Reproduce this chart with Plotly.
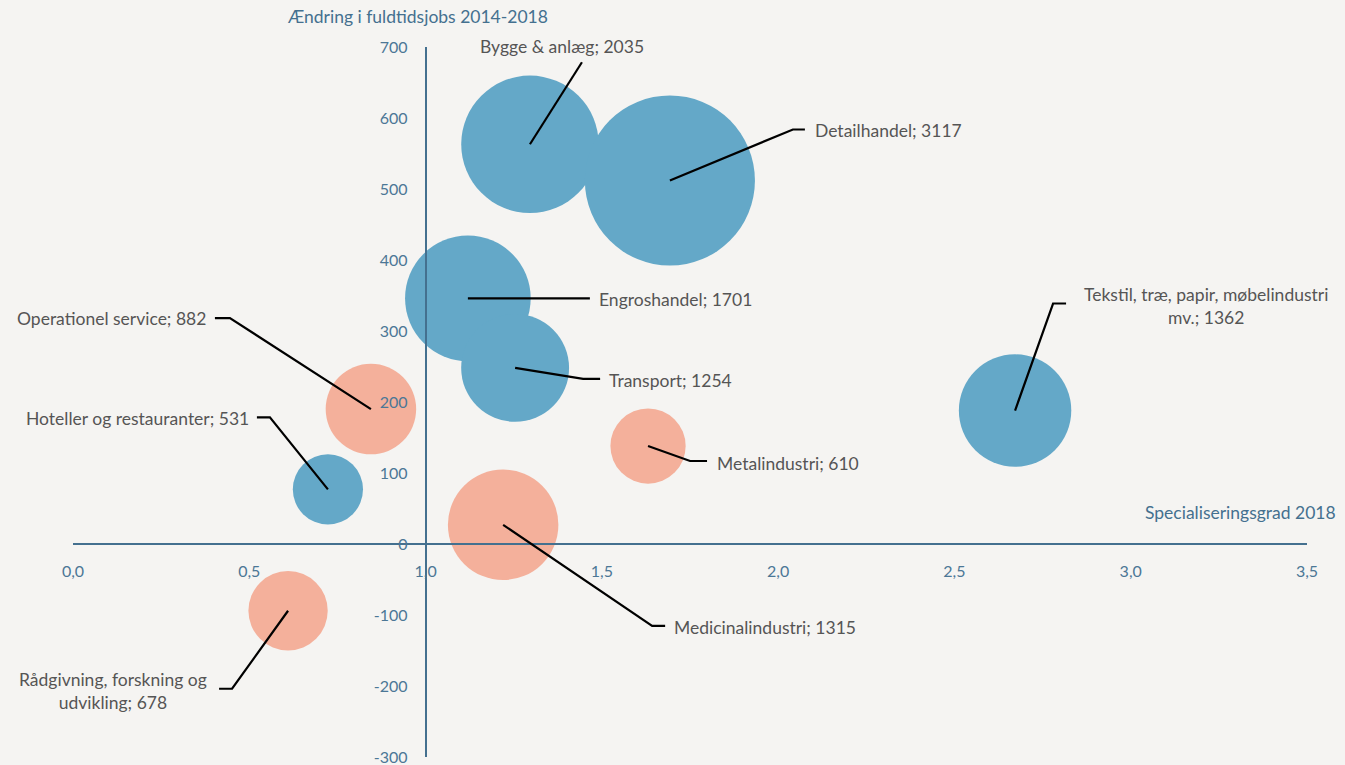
import plotly.graph_objects as go

# ---------------- data ----------------
names = ["Bygge & anlæg", "Detailhandel", "Engroshandel", "Transport",
         "Tekstil, træ, papir, møbelindustri<br>mv.", "Operationel service",
         "Hoteller og restauranter", "Metalindustri", "Medicinalindustri",
         "Rådgivning, forskning og<br>udvikling"]
specialisering = [1.296, 1.693, 1.120, 1.254, 2.672, 0.845, 0.723, 1.631, 1.220, 0.610]
aendring = [563, 512, 346, 248, 188, 190, 77, 138, 27, -94]
fuldtid = [2035, 3117, 1701, 1254, 1362, 882, 531, 610, 1315, 678]
gruppe = ["blue", "blue", "blue", "blue", "blue", "salmon", "blue", "salmon", "salmon", "salmon"]

x_tickvals = [0.0, 0.5, 1.0, 1.5, 2.0, 2.5, 3.0, 3.5]
x_ticktext = ["0,0", "0,5", "1,0", "1,5", "2,0", "2,5", "3,0", "3,5"]
y_tickvals = [-300, -200, -100, 0, 100, 200, 300, 400, 500, 600, 700]
y_ticktext = ["-300", "-200", "-100", "0", "100", "200", "300", "400", "500", "600", "700"]

# ---------------- styling / layout ----------------
colors = {"blue": "#64a8c8", "salmon": "#f4b09b"}
bg = "#f5f4f2"
axis_col = "#44708f"
tick_col = "#4c7796"
label_col = "#555555"
FONT = "Lato"

# leader paths (pixel offsets from bubble centre, image y-down) and label offsets
leaders = [
    [(0, 0), (52, -82)],
    [(0, 0), (123, -51), (135, -51)],
    [(0, 0), (122, 0)],
    [(0, 0), (68, 11), (85, 11)],
    [(0, 0), (38, -107), (51, -107)],
    [(0, 0), (-141, -91), (-156, -91)],
    [(0, 0), (-58, -72), (-71, -72)],
    [(0, 0), (42, 15), (59, 15)],
    [(0, 0), (149, 101), (162, 101)],
    [(0, 0), (-56, 78), (-69, 78)],
]
label_pos = [  # (dx, dy, xanchor)
    (32, -98, "center"),
    (143, -50, "left"),
    (129, 1, "left"),
    (92, 13, "left"),
    (191, -105, "center"),
    (-163, -91, "right"),
    (-77, -71, "right"),
    (67, 17, "left"),
    (169, 103, "left"),
    (-175, 80, "center"),
]

PLOT_H = 710
fig = go.Figure()
for grp in ["blue", "salmon"]:
    idx = [i for i, g in enumerate(gruppe) if g == grp]
    fig.add_trace(go.Scatter(
        x=[specialisering[i] for i in idx],
        y=[aendring[i] for i in idx],
        mode="markers",
        marker=dict(size=[fuldtid[i] for i in idx], sizemode="area", sizeref=0.2155,
                    color=colors[grp], line=dict(width=0), opacity=1),
        hoverinfo="skip", showlegend=False, cliponaxis=False,
    ))

shapes = []
annotations = []
for i in range(len(names)):
    pts = leaders[i]
    path = "M" + " L".join(f"{dx},{-dy}" for dx, dy in pts)
    shapes.append(dict(type="path", xref="x", yref="y", xsizemode="pixel", ysizemode="pixel",
                       xanchor=specialisering[i], yanchor=aendring[i], path=path,
                       line=dict(color="black", width=2.2), layer="above"))
    dx, dy, xa = label_pos[i]
    annotations.append(dict(x=specialisering[i], y=aendring[i], xref="x", yref="y",
                            text=f"{names[i]}; {fuldtid[i]}", showarrow=False,
                            xshift=dx, yshift=-dy, xanchor=xa, yanchor="middle",
                            align="center", font=dict(family=FONT, size=17.5, color=label_col)))

annotations.append(dict(x=(285 - 73) / 1234, y=(757 - 16) / PLOT_H, xref="paper", yref="paper",
                        text="Ændring i fuldtidsjobs 2014-2018", showarrow=False,
                        xanchor="left", yanchor="middle",
                        font=dict(family=FONT, size=17.5, color=axis_col)))
annotations.append(dict(x=(1338 - 73) / 1234, y=(757 - 512) / PLOT_H, xref="paper", yref="paper",
                        text="Specialiseringsgrad 2018", showarrow=False,
                        xanchor="right", yanchor="middle",
                        font=dict(family=FONT, size=17.5, color=axis_col)))

fig.update_layout(
    width=1345, height=785,
    margin=dict(l=73, r=38, t=47, b=28),
    paper_bgcolor=bg, plot_bgcolor=bg,
    shapes=shapes, annotations=annotations,
    xaxis=dict(range=[0, 3.5], anchor="free", position=0.3, showgrid=False, zeroline=False,
               showline=True, linecolor=axis_col, linewidth=1.5,
               tickvals=x_tickvals, ticktext=x_ticktext, ticks="",
               ticklabelstandoff=13,
               tickfont=dict(family=FONT, size=16, color=tick_col)),
    yaxis=dict(range=[-300, 700], anchor="free", position=1 / 3.5, showgrid=False, zeroline=False,
               showline=True, linecolor=axis_col, linewidth=1.5,
               tickvals=y_tickvals, ticktext=y_ticktext, ticks="",
               ticklabelstandoff=14,
               tickfont=dict(family=FONT, size=16, color=tick_col)),
)

fig.write_html("out.html", config={"displayModeBar": False},
               post_script="document.body.style.margin='0';document.body.style.overflow='hidden';")
